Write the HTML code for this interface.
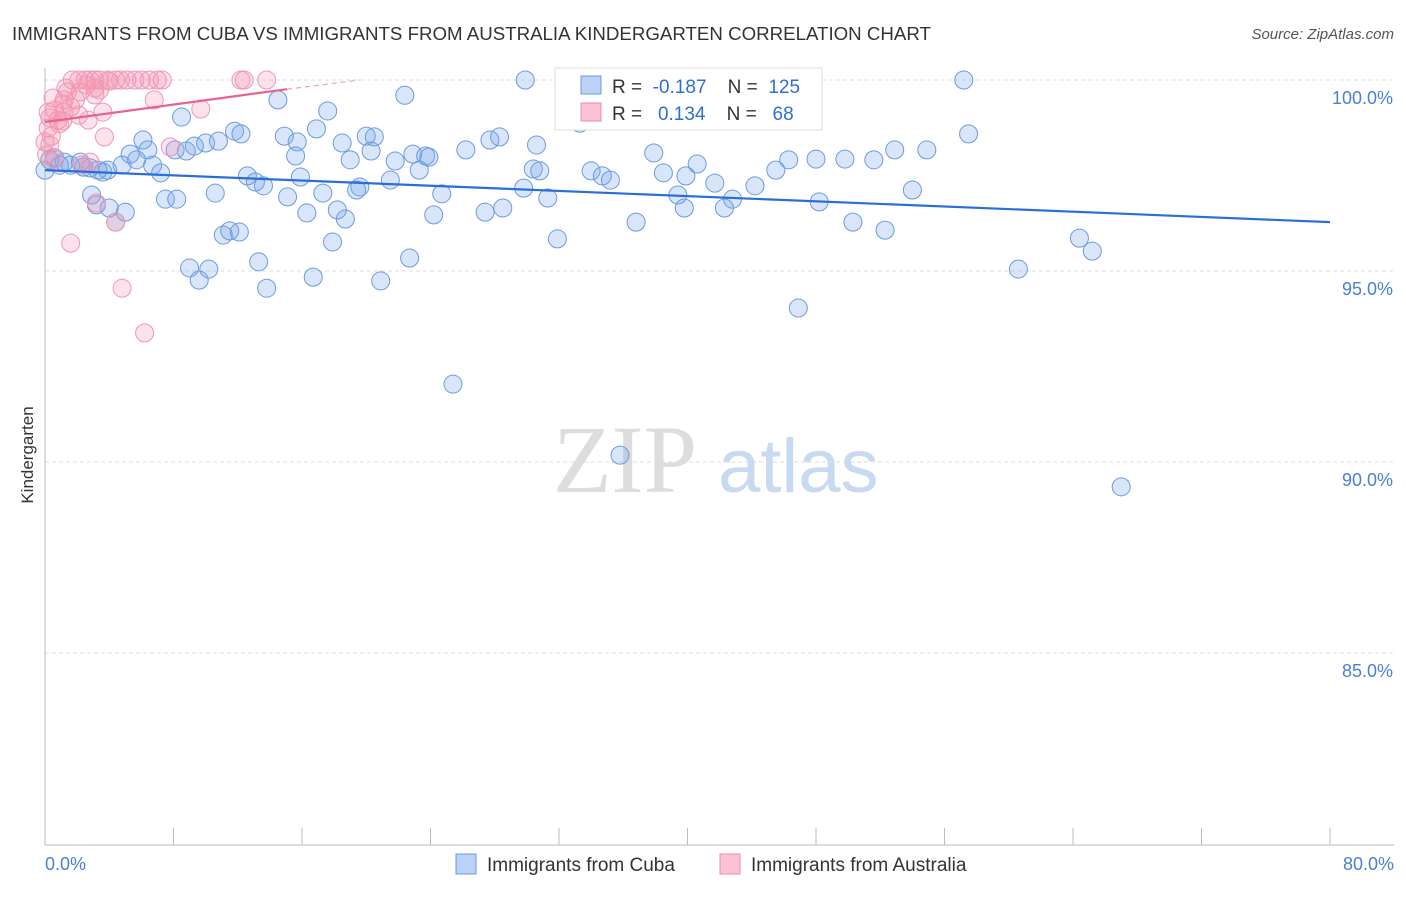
<!DOCTYPE html>
<html><head><meta charset="utf-8"><style>
body{margin:0;background:#fff;font-family:"Liberation Sans",sans-serif;}
svg text{font-family:"Liberation Sans",sans-serif;}
</style></head><body>
<svg id="c" width="1406" height="892">
<text x="12" y="40" font-size="18.7" fill="#333">IMMIGRANTS FROM CUBA VS IMMIGRANTS FROM AUSTRALIA KINDERGARTEN CORRELATION CHART</text>
<text x="1394" y="39" font-size="15" fill="#555" font-style="italic" text-anchor="end">Source: ZipAtlas.com</text>
<text transform="translate(33,455) rotate(-90)" font-size="17" fill="#333" text-anchor="middle">Kindergarten</text>
<g><text x="553" y="492" font-size="96" fill="#ddd" style="font-family:'Liberation Serif',serif">ZIP</text><text x="718" y="492" font-size="76" fill="#c8d9f2">atlas</text></g>
<g id="grid"></g><g id="pts"></g><g id="trend"></g>
<g>
<rect x="555" y="68" width="267" height="62" fill="#fff" stroke="#ddd"/>
<rect x="581" y="76" width="20" height="18" fill="#b9d2f5" stroke="#6b9be0"/>
<text x="612" y="93" font-size="19" fill="#333" xml:space="preserve" style="white-space:pre">R =  <tspan fill="#2e6fd6">-0.187</tspan>    N =  <tspan fill="#2e6fd6">125</tspan></text>
<rect x="581" y="103" width="20" height="18" fill="#f9c3d3" stroke="#f08aa8"/>
<text x="612" y="120" font-size="19" fill="#333" xml:space="preserve" style="white-space:pre">R =   <tspan fill="#2e6fd6">0.134</tspan>    N =   <tspan fill="#2e6fd6">68</tspan></text>
</g>
<g>
<rect x="456" y="854" width="20" height="20" fill="#b9d2f5" stroke="#6b9be0"/>
<text x="487" y="871" font-size="19" fill="#333">Immigrants from Cuba</text>
<rect x="720" y="854" width="20" height="20" fill="#f9c3d3" stroke="#f08aa8"/>
<text x="751" y="871" font-size="19" fill="#333">Immigrants from Australia</text>
</g>
<text x="45" y="870" font-size="18" fill="#4a7fd6">0.0%</text>
<text x="1394" y="870" font-size="18" fill="#4a7fd6" text-anchor="end">80.0%</text>
</svg>
<script>
const yTicks=[100,95,90,85];
const yTickLabels=["100.0%","95.0%","90.0%","85.0%"];
const xTicks=[0,8,16,24,32,40,48,56,64,72,80];
const cubaX=[29.9,36.3,57.2,14.5,22.4,8.5,17.6,57.5,6.1,11.8,12.2,14.9,16.9,20.0,20.5,15.7,18.5,27.7,28.3,30.6,26.2,22.9,23.7,23.9,21.8,20.3,5.3,6.4,8.1,8.8,9.3,10.0,10.8,15.6,19.0,37.9,52.9,54.9,48.0,49.8,51.6,46.3,40.6,45.5,38.5,34.0,34.7,35.2,30.4,30.8,23.3,0.6,0.9,1.6,2.2,2.8,3.6,3.9,4.8,5.7,6.7,7.2,12.6,13.1,13.6,15.9,21.5,19.6,19.4,15.1,17.3,24.7,29.8,31.3,39.4,39.9,41.7,44.2,42.8,54.0,48.2,2.9,3.2,4.0,5.0,7.5,8.2,10.6,16.3,18.2,18.7,24.2,27.4,28.5,36.8,39.8,42.3,50.3,52.3,11.1,11.5,12.1,17.9,31.9,64.4,65.2,9.0,10.2,9.6,13.3,16.7,20.9,22.7,13.8,60.6,46.9,25.4,35.8,67.0,4.4,0,0.3,1.2,2.4,3.3,33.3];
const cubaY=[100,100,100,99.48,99.6,99.03,99.19,98.59,98.43,98.66,98.59,98.53,98.72,98.53,98.51,98.38,98.35,98.43,98.51,98.30,98.17,98.06,98.01,97.98,97.88,98.14,98.06,98.17,98.17,98.14,98.27,98.35,98.40,98.01,97.91,98.09,98.17,98.17,97.93,97.93,97.91,97.91,97.80,97.64,97.57,97.62,97.49,97.38,97.67,97.62,97.64,97.96,97.77,97.77,97.85,97.70,97.59,97.64,97.77,97.91,97.77,97.57,97.49,97.33,97.23,97.46,97.38,97.20,97.12,96.94,97.04,97.02,97.17,96.91,96.99,97.49,97.30,97.23,96.88,97.12,96.81,96.99,96.73,96.65,96.54,96.88,96.88,97.04,96.52,96.60,96.36,96.47,96.54,96.65,96.28,96.65,96.65,96.28,96.07,95.94,96.05,96.02,95.76,95.84,95.86,95.52,95.08,95.05,94.76,95.24,94.84,94.74,95.34,94.55,95.05,94.03,92.04,90.18,89.35,96.28,97.64,97.91,97.85,97.72,97.64,98.87];
const ausX=[1.7,2.1,2.5,2.8,3.1,3.4,3.9,4.4,4.7,5.1,5.6,6.0,6.5,7.0,7.3,12.2,12.4,13.8,2.6,3.1,2.2,1.4,1.9,1.1,1.6,0.6,1.2,0.3,0.8,0.2,0.4,0,0.3,1.1,3.6,6.8,9.7,3.7,2.1,3.1,1.2,0.1,0.6,2.8,7.8,3.2,4.4,1.6,4.8,6.2,2.3,0.9,2.7,3.4,0.5,0.2,1.3,4.0];
const ausY=[100,100,100,100,100,100,100,100,100,100,100,100,100,100,100,100,100,100,99.87,99.79,99.69,99.69,99.48,99.37,99.29,99.21,99.16,99.01,98.95,98.74,98.53,98.38,98.30,98.93,99.16,99.48,99.24,98.51,99.08,99.61,99.48,98.04,97.91,97.85,98.25,96.78,96.28,95.73,94.55,93.38,97.77,98.85,98.95,99.74,99.53,99.16,99.79,99.97];
const cubaTrend=[[0,97.64],[80,96.28]];
const ausTrend=[[0,98.9],[15.07,99.76]];
const ausTrendExt=[[15.07,99.76],[19.6,100]];

const X=v=>45+v*(1330-45)/80;
const Y=v=>80+(100-v)*38.2;
const NS="http://www.w3.org/2000/svg";
function mk(tag,attrs,parent){const e=document.createElementNS(NS,tag);for(const k in attrs)e.setAttribute(k,attrs[k]);parent.appendChild(e);return e;}
const grid=document.getElementById('grid');
yTicks.forEach((t,i)=>{
  const l=mk('line',{x1:45,x2:1394,y1:Y(t),y2:Y(t),stroke:'#ddd','stroke-dasharray':'4,3'},grid);
  
  
  const tx=mk('text',{x:1393,y:Y(t)+24,'font-size':18,fill:'#4a7fd6','text-anchor':'end'},grid);
  tx.textContent=yTickLabels[i];
  
  
});
const ax=mk('line',{x1:45,x2:45,y1:68,y2:845,stroke:'#bbb'},grid);


const bx=mk('line',{x1:45,x2:1394,y1:845,y2:845,stroke:'#bbb'},grid);


xTicks.forEach(t=>{
  const l=mk('line',{x1:X(t),x2:X(t),y1:828,y2:845,stroke:'#bbb'},grid);
  
  
});
const pts=document.getElementById('pts');
cubaX.forEach((v,i)=>{
  const c=mk('circle',{cx:X(v),cy:Y(cubaY[i]),r:9,fill:'rgba(120,165,235,0.28)',stroke:'#6b9be0','stroke-width':1},pts);
  
  
});
ausX.forEach((v,i)=>{
  const c=mk('circle',{cx:X(v),cy:Y(ausY[i]),r:9,fill:'rgba(245,150,178,0.28)',stroke:'#f197b2','stroke-width':1},pts);
  
  
});
const tr=document.getElementById('trend');
const l1=mk('line',{x1:X(cubaTrend[0][0]),y1:Y(cubaTrend[0][1]),x2:X(cubaTrend[1][0]),y2:Y(cubaTrend[1][1]),stroke:'#2a6fd6','stroke-width':2.2},tr);


const l2=mk('line',{x1:X(ausTrend[0][0]),y1:Y(ausTrend[0][1]),x2:X(ausTrend[1][0]),y2:Y(ausTrend[1][1]),stroke:'#e8638d','stroke-width':2.2},tr);


const l3=mk('line',{x1:X(ausTrendExt[0][0]),y1:Y(ausTrendExt[0][1]),x2:X(ausTrendExt[1][0]),y2:Y(ausTrendExt[1][1]),stroke:'#e8a0b6','stroke-width':1.2,'stroke-dasharray':'5,4'},tr);


</script>
</body></html>
